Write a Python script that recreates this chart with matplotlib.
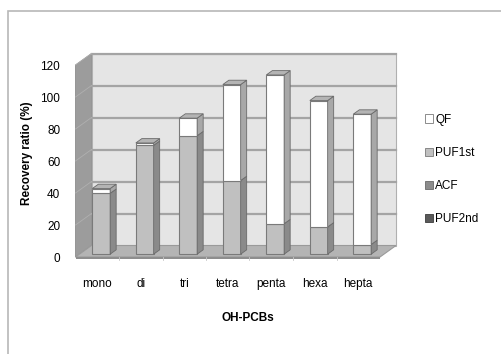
import matplotlib
matplotlib.use('Agg')
from matplotlib import pyplot as plt
from matplotlib.patches import Polygon, Patch, Rectangle
import numpy as np

# Recovery of OH-PCBs by fraction (%)
groups = ['mono', 'di', 'tri', 'tetra', 'penta', 'hexa', 'hepta']
puf2nd = [0, 0, 0, 0, 0, 0, 0]
acf = [0, 0, 0, 0, 0, 0, 0]
puf1st = [38, 68, 74, 46, 19, 17, 6]
qf = [3, 1.5, 11, 60, 93, 79, 81.5]

plt.rcParams['font.family'] = ['Liberation Sans', 'DejaVu Sans']
plt.rcParams['font.size'] = 8.5

W, H = 502, 354
fig = plt.figure(figsize=(W / 100, H / 100), dpi=100)
# axes box = front plane of the 3D frame
ax = fig.add_axes([75.5 / W, (H - 257) / H, 304.5 / W, 192 / H])
ax.set_xlim(-0.5, 6.5)
ax.set_ylim(0, 120)

DX, DY = 16 / 43.5, 11.5 / 1.6   # full depth of the frame in data units
f0, f1 = 0.25, 0.625              # bar front / back depth fraction
bw = 0.41

def poly(pts, fc, ec='none', lw=0, z=1):
    ax.add_patch(Polygon(pts, closed=True, facecolor=fc, edgecolor=ec,
                         linewidth=lw, zorder=z, clip_on=False))

x0, x1 = -0.5, 6.5
# back wall, left wall, floor
poly([(x0 + DX, DY), (x1 + DX, DY), (x1 + DX, 120 + DY), (x0 + DX, 120 + DY)], '#e5e5e5', '#b0b0b0', 0.8)
poly([(x0, 0), (x0 + DX, DY), (x0 + DX, 120 + DY), (x0, 120)], '#9c9c9c', '#8c8c8c', 0.6)
for v in range(20, 121, 20):
    ax.plot([x0 + DX, x1 + DX], [v + DY, v + DY], color='#a4a4a4', lw=1.6, zorder=1.5, clip_on=False)
    ax.plot([x0, x0 + DX], [v, v + DY], color='#b0b0b0', lw=0.6, zorder=1.5, clip_on=False)
poly([(x0, 0), (x1, 0), (x1 + DX, DY), (x0 + DX, DY)], '#b4b4b4', '#9a9a9a', 0.8, 2)
poly([(x0, 0), (x1, 0), (x1, -1.2), (x0, -1.2)], '#8e8e8e', 'none', 0, 2)
for k in range(1, 7):
    ax.plot([k - 0.5, k - 0.5], [0, -1.8], color='#c8c8c8', lw=0.6, zorder=2, clip_on=False)

# stacked bars, bottom to top
series = [(puf2nd, '#5a5a5a', '#3c3c3c'),
          (acf, '#8c8c8c', '#6a6a6a'),
          (puf1st, '#c0c0c0', '#8a8a8a'),
          (qf, '#ffffff', '#a8a8a8')]
xs = np.arange(len(groups))
bottoms = np.zeros(len(groups))
tops = np.zeros(len(groups))
for vals, fc, side in series:
    vals = np.array(vals, dtype=float)
    m = vals > 0
    ax.bar(xs[m] + f0 * DX, vals[m], width=bw, bottom=bottoms[m] + f0 * DY,
           color=fc, edgecolor='#7a7a7a', linewidth=0.8, zorder=3, clip_on=False)
    for i in np.where(m)[0]:
        xr = xs[i] + bw / 2
        b, t = bottoms[i], bottoms[i] + vals[i]
        poly([(xr + f0 * DX, b + f0 * DY), (xr + f1 * DX, b + f1 * DY),
              (xr + f1 * DX, t + f1 * DY), (xr + f0 * DX, t + f0 * DY)], side, '#6a6a6a', 0.6, 3)
        tops[i] = t
    bottoms = bottoms + vals

# top caps
for i in range(len(groups)):
    xl, xr = xs[i] - bw / 2, xs[i] + bw / 2
    t = tops[i]
    poly([(xl + f0 * DX, t + f0 * DY), (xr + f0 * DX, t + f0 * DY),
          (xr + f1 * DX, t + f1 * DY), (xl + f1 * DX, t + f1 * DY)], '#b4b4b4', '#6a6a6a', 0.6, 3.5)

for s in ax.spines.values():
    s.set_visible(False)
ax.set_xticks(xs)
ax.set_xticklabels(groups)
ax.set_yticks(range(0, 121, 20))
ax.tick_params(axis='both', length=0)
ax.tick_params(axis='x', pad=15)
ax.tick_params(axis='y', pad=11)
ax.set_facecolor('none')

fig.text(27 / W, 1 - 153 / H, 'Recovery ratio (%)', rotation=90, ha='center', va='center', fontweight='bold')
fig.text(248 / W, 1 - 318 / H, 'OH-PCBs', ha='center', va='center', fontweight='bold')

handles = [Patch(facecolor='#ffffff', edgecolor='#7a7a7a', linewidth=0.6),
           Patch(facecolor='#c0c0c0', edgecolor='#7a7a7a', linewidth=0.6),
           Patch(facecolor='#8c8c8c', edgecolor='#6a6a6a', linewidth=0.6),
           Patch(facecolor='#5a5a5a', edgecolor='#3c3c3c', linewidth=0.6)]
fig.legend(handles, ['QF', 'PUF1st', 'ACF', 'PUF2nd'], loc='upper left',
           bbox_to_anchor=(414 / W, 1 - 103 / H), frameon=False,
           handlelength=0.7, handleheight=0.7, handletextpad=0.2, labelspacing=1.8)

# chart area border
fig.add_artist(Rectangle((8 / W, -0.1), 1.2, 1 - 11 / H + 0.1, transform=fig.transFigure,
                         fill=False, edgecolor='#b8b8b8', linewidth=1.2))

fig.savefig('out.png', dpi=100)
